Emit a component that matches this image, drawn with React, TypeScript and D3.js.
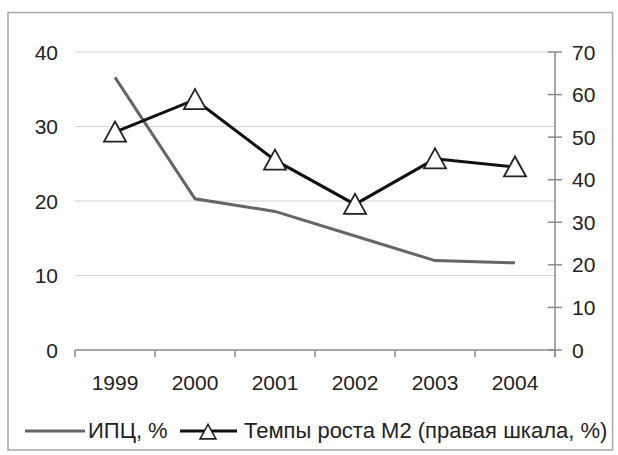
import React from "react";
import * as d3 from "d3";

const years = ["1999", "2000", "2001", "2002", "2003", "2004"];
const cpi = [36.6, 20.3, 18.6, 15.3, 12.0, 11.7];
const m2 = [51.2, 58.8, 44.6, 34.2, 44.9, 43.0];
const leftTicks = [0, 10, 20, 30, 40];
const rightTicks = [0, 10, 20, 30, 40, 50, 60, 70];
const legendLabels = ["ИПЦ, %", "Темпы роста М2 (правая шкала, %)"];

const W = 618;
const H = 455;
const FONT = "'Liberation Sans', Arial, sans-serif";

export default function App() {
  const x = d3.scaleBand<string>().domain(years).range([75, 555]);
  const yL = d3.scaleLinear().domain([0, 40]).range([350, 52]);
  const yR = d3.scaleLinear().domain([0, 70]).range([350, 52]);
  const cx = (d: string) => (x(d) as number) + x.bandwidth() / 2;

  const lineCpi = d3
    .line<number>()
    .x((_, i) => cx(years[i]))
    .y((d) => yL(d));
  const lineM2 = d3
    .line<number>()
    .x((_, i) => cx(years[i]))
    .y((d) => yR(d));

  const tri = (px: number, py: number, s = 1) =>
    `M${px},${py - 10.5 * s} L${px + 11 * s},${py + 9.5 * s} L${px - 11 * s},${py + 9.5 * s} Z`;

  const bounds = [...years.map((d) => x(d) as number), 555];

  return (
    <svg
      width={W}
      height={H}
      style={{ position: "absolute", left: 0, top: 0, background: "#fff" }}
      fontFamily={FONT}
    >
      <rect x={8} y={12.5} width={604.5} height={437.5} fill="#fff" stroke="#a8a8a8" strokeWidth={1.5} />
      {leftTicks
        .filter((t) => t > 0)
        .map((t) => (
          <line key={t} x1={75} x2={555} y1={yL(t)} y2={yL(t)} stroke="#d4d4d4" strokeWidth={1.2} />
        ))}
      {/* x axis */}
      <line x1={75} x2={555} y1={350} y2={350} stroke="#8a8a8a" strokeWidth={1.5} />
      {bounds.map((b, i) => (
        <line key={i} x1={b} x2={b} y1={350} y2={357} stroke="#8a8a8a" strokeWidth={1.5} />
      ))}
      {/* right axis */}
      <line x1={555} x2={555} y1={52} y2={357} stroke="#8a8a8a" strokeWidth={1.5} />
      {rightTicks.map((t) => (
        <line key={t} x1={548} x2={562} y1={yR(t)} y2={yR(t)} stroke="#8a8a8a" strokeWidth={1.5} />
      ))}
      {leftTicks.map((t) => (
        <text key={t} x={58} y={yL(t)} dy="0.36em" textAnchor="end" fontSize={21} fill="#222">
          {t}
        </text>
      ))}
      {rightTicks.map((t) => (
        <text key={t} x={572} y={yR(t)} dy="0.36em" textAnchor="start" fontSize={21} fill="#222">
          {t}
        </text>
      ))}
      {years.map((d) => (
        <text key={d} x={cx(d)} y={390} textAnchor="middle" fontSize={21} fill="#222">
          {d}
        </text>
      ))}
      <path d={lineCpi(cpi) || ""} fill="none" stroke="#666" strokeWidth={3} />
      <path d={lineM2(m2) || ""} fill="none" stroke="#111" strokeWidth={3} />
      {m2.map((v, i) => (
        <path key={i} d={tri(cx(years[i]), yR(v))} fill="#fff" stroke="#222" strokeWidth={1.8} />
      ))}
      {/* legend */}
      <line x1={25} x2={85} y1={431} y2={431} stroke="#666" strokeWidth={3} />
      <text x={88} y={438} fontSize={22} fill="#222">
        {legendLabels[0]}
      </text>
      <line x1={180} x2={237} y1={431} y2={431} stroke="#111" strokeWidth={3} />
      <path d={tri(208, 432, 0.72)} fill="#fff" stroke="#222" strokeWidth={1.6} />
      <text x={244} y={438} fontSize={22} fill="#222">
        {legendLabels[1]}
      </text>
    </svg>
  );
}
